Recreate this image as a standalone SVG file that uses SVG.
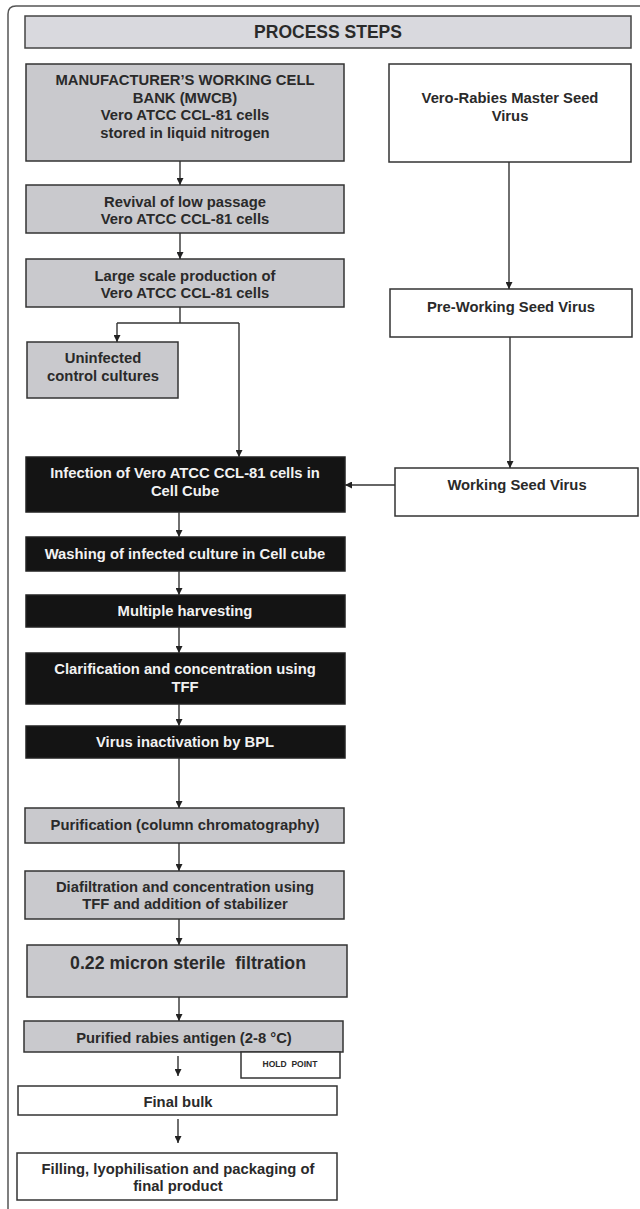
<svg xmlns="http://www.w3.org/2000/svg" width="640" height="1209" viewBox="0 0 640 1209">
<style>
text{font-family:"Liberation Sans",Arial,sans-serif;font-weight:bold;text-anchor:middle;dominant-baseline:central;fill:#2a2a2a;font-size:14.8px}
.gray{fill:#c9c9cd;stroke:#333;stroke-width:1.5}
.white{fill:#fff;stroke:#333;stroke-width:1.5}
.black{fill:#141414;stroke:#222;stroke-width:1.5}
.wt{fill:#f2f2f2}
.conn{fill:none;stroke:#333;stroke-width:1.4}
</style>
<defs>
<marker id="ah" viewBox="0 0 10 10" refX="10" refY="5" markerWidth="7" markerHeight="7" markerUnits="userSpaceOnUse" orient="auto">
<path d="M0,0 L10,5 L0,10 z" fill="#222"/>
</marker>
</defs>
<rect x="0" y="0" width="640" height="1209" fill="#fff"/>
<path d="M8,1212 V14 Q8,6 16,6 H644" fill="none" stroke="#555" stroke-width="1.5"/>

<g id="header"><rect x="25" y="16" width="606" height="32" fill="#d9d9de" stroke="#444" stroke-width="1.5"/><text x="328" y="32" style="font-size:17.5px">PROCESS STEPS</text></g>

<g id="mwcb"><rect class="gray" x="26" y="64" width="318" height="97"/>
<text x="185" y="80">MANUFACTURER’S WORKING CELL</text>
<text x="185" y="98">BANK (MWCB)</text>
<text x="185" y="115">Vero ATCC CCL-81 cells</text>
<text x="185" y="133">stored in liquid nitrogen</text></g>

<g id="revival"><rect class="gray" x="26" y="185" width="318" height="48"/>
<text x="185" y="202">Revival of low passage</text>
<text x="185" y="219">Vero ATCC CCL-81 cells</text></g>

<g id="largescale"><rect class="gray" x="26" y="259" width="318" height="48"/>
<text x="185" y="276">Large scale production of</text>
<text x="185" y="293">Vero ATCC CCL-81 cells</text></g>

<g id="uninfected"><rect class="gray" x="27" y="342" width="151" height="56"/>
<text x="103" y="358">Uninfected</text>
<text x="103" y="376">control cultures</text></g>

<g id="master"><rect class="white" x="389" y="64" width="242" height="98"/>
<text x="510" y="98">Vero-Rabies Master Seed</text>
<text x="510" y="116">Virus</text></g>

<g id="prework"><rect class="white" x="390" y="289" width="242" height="48"/>
<text x="511" y="307">Pre-Working Seed Virus</text></g>

<g id="working"><rect class="white" x="395" y="468" width="243" height="48"/>
<text x="517" y="485">Working Seed Virus</text></g>

<g id="infection"><rect class="black" x="26" y="457" width="319" height="55"/>
<text class="wt" x="185" y="473">Infection of Vero ATCC CCL-81 cells in</text>
<text class="wt" x="185" y="491">Cell Cube</text></g>

<g id="washing"><rect class="black" x="26" y="537" width="319" height="34"/>
<text class="wt" x="185" y="554">Washing of infected culture in Cell cube</text></g>

<g id="harvest"><rect class="black" x="26" y="595" width="319" height="32"/>
<text class="wt" x="185" y="611">Multiple harvesting</text></g>

<g id="clarify"><rect class="black" x="26" y="653" width="319" height="51"/>
<text class="wt" x="185" y="669">Clarification and concentration using</text>
<text class="wt" x="185" y="687">TFF</text></g>

<g id="inactivation"><rect class="black" x="26" y="726" width="319" height="32"/>
<text class="wt" x="185" y="742">Virus inactivation by BPL</text></g>

<g id="purification"><rect class="gray" x="25" y="808" width="319" height="35"/>
<text x="185" y="825">Purification (column chromatography)</text></g>

<g id="diafiltration"><rect class="gray" x="25" y="871" width="319" height="48"/>
<text x="185" y="887">Diafiltration and concentration using</text>
<text x="185" y="904">TFF and addition of stabilizer</text></g>

<g id="sterile"><rect class="gray" x="27" y="945" width="320" height="52"/>
<text x="188" y="963" style="font-size:17.7px;white-space:pre" xml:space="preserve">0.22 micron sterile  filtration</text></g>

<g id="antigen"><rect class="gray" x="24" y="1021" width="319" height="31"/>
<text x="184" y="1038">Purified rabies antigen (2-8 °C)</text></g>

<g id="holdpoint"><rect class="white" x="241" y="1052" width="99" height="26"/>
<text x="290" y="1064" style="font-size:8.5px;white-space:pre" xml:space="preserve">HOLD  POINT</text></g>

<g id="finalbulk"><rect class="white" x="18" y="1086" width="319" height="29"/>
<text x="178" y="1102">Final bulk</text></g>

<g id="filling"><rect class="white" x="17" y="1153" width="320" height="47"/>
<text x="178" y="1169">Filling, lyophilisation and packaging of</text>
<text x="178" y="1186">final product</text></g>

<g id="connectors">
<path class="conn" d="M180,161 V185" marker-end="url(#ah)"/>
<path class="conn" d="M180,233 V259" marker-end="url(#ah)"/>
<path class="conn" d="M180,307 V323"/>
<path class="conn" d="M117,323 H239"/>
<path class="conn" d="M117,323 V342" marker-end="url(#ah)"/>
<path class="conn" d="M239,323 V457" marker-end="url(#ah)"/>
<path class="conn" d="M509,162 V289" marker-end="url(#ah)"/>
<path class="conn" d="M510,337 V468" marker-end="url(#ah)"/>
<path class="conn" d="M395,485 H345" marker-end="url(#ah)"/>
<path class="conn" d="M179,512 V537" marker-end="url(#ah)"/>
<path class="conn" d="M179,571 V595" marker-end="url(#ah)"/>
<path class="conn" d="M179,627 V653" marker-end="url(#ah)"/>
<path class="conn" d="M179,704 V726" marker-end="url(#ah)"/>
<path class="conn" d="M179,758 V808" marker-end="url(#ah)"/>
<path class="conn" d="M179,843 V871" marker-end="url(#ah)"/>
<path class="conn" d="M179,919 V945" marker-end="url(#ah)"/>
<path class="conn" d="M179,997 V1021" marker-end="url(#ah)"/>
<path class="conn" d="M178,1056 V1076" marker-end="url(#ah)"/>
<path class="conn" d="M178,1119 V1143" marker-end="url(#ah)"/>
</g>
</svg>
